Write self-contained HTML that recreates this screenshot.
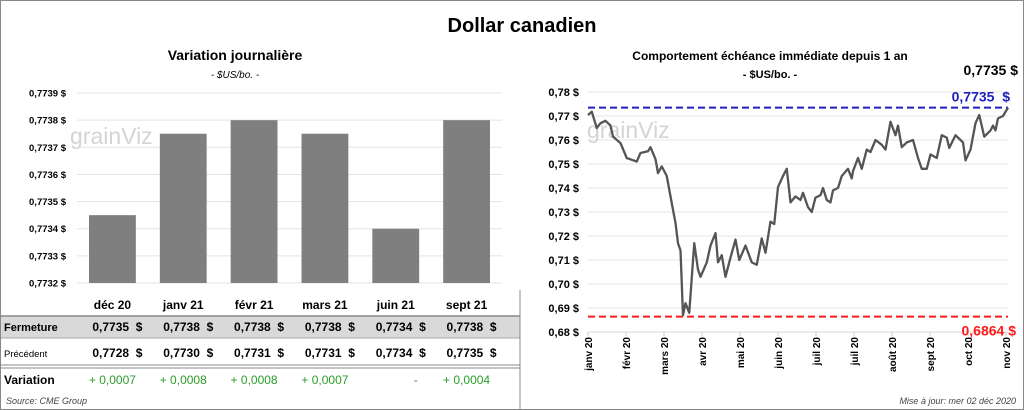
<!DOCTYPE html>
<html><head><meta charset="utf-8"><style>
body{margin:0;width:1024px;height:410px;overflow:hidden;background:#fff;font-family:"Liberation Sans",sans-serif}
svg{display:block}
</style></head><body>
<svg width="1024" height="410" font-family="Liberation Sans, sans-serif">
<rect x="0.5" y="0.5" width="1023" height="409" fill="#fff" stroke="#888"/>
<text x="522" y="32" text-anchor="middle" font-size="20" font-weight="bold">Dollar canadien</text>
<text x="235" y="60" text-anchor="middle" font-size="14" font-weight="bold">Variation  journalière</text>
<text x="235" y="78" text-anchor="middle" font-size="10" font-style="italic">- $US/bo. -</text>
<text x="770" y="60" text-anchor="middle" font-size="12" font-weight="bold">Comportement échéance immédiate depuis 1 an</text>
<text x="770" y="78" text-anchor="middle" font-size="11" font-weight="bold">- $US/bo. -</text>
<text x="1018" y="75" text-anchor="end" font-size="14" font-weight="bold">0,7735 $</text>
<g id="left"></g>
<g id="right"></g>
<g id="table"></g>
<text x="6" y="404" font-size="9" font-style="italic" fill="#444">Source: CME Group</text>
<text x="1016" y="404" text-anchor="end" font-size="9" font-style="italic" fill="#444">Mise à jour: mer 02 déc 2020</text>
</svg>
<script>
const NS='http://www.w3.org/2000/svg';
function mk(p,t,a){const e=document.createElementNS(NS,t);for(const k in a)e.setAttribute(k,a[k]);p.appendChild(e);return e;}
const barCats=['déc 20','janv 21','févr 21','mars 21','juin 21','sept 21'];
const barVals=[0.77345,0.77375,0.7738,0.77375,0.7734,0.7738];
const barTicks=[0.7732,0.7733,0.7734,0.7735,0.7736,0.7737,0.7738,0.7739];
const closeVals=['0,7735','0,7738','0,7738','0,7738','0,7734','0,7738'];
const prevVals=['0,7728','0,7730','0,7731','0,7731','0,7734','0,7735'];
const varVals=['+ 0,0007','+ 0,0008','+ 0,0008','+ 0,0007','-','+ 0,0004'];
const lineDays=[0,3,7,10,14,18,20,26,31,39,42,48,50,54,56,59,63,67,70,72,74,76,78,81,85,88,90,95,98,102,104,107,110,114,118,121,126,131,135,139,142,146,149,152,156,159,162,166,170,172,176,179,182,186,188,191,194,196,200,203,208,211,212,216,219,223,226,230,235,238,242,246,248,251,255,260,264,267,271,274,279,283,287,289,294,298,300,302,306,310,313,317,322,324,326,328,332,336];
const lineVals=[0.7704,0.7718,0.765,0.767,0.768,0.766,0.7614,0.7587,0.7525,0.751,0.7546,0.7553,0.757,0.752,0.7462,0.749,0.745,0.7337,0.7254,0.717,0.714,0.687,0.692,0.688,0.717,0.706,0.703,0.709,0.716,0.7212,0.709,0.712,0.703,0.711,0.7185,0.710,0.716,0.709,0.708,0.719,0.713,0.726,0.725,0.7404,0.745,0.748,0.734,0.7365,0.735,0.738,0.732,0.730,0.736,0.737,0.740,0.735,0.734,0.739,0.740,0.745,0.748,0.744,0.747,0.7525,0.748,0.756,0.755,0.760,0.758,0.756,0.7676,0.762,0.766,0.757,0.759,0.760,0.7525,0.748,0.748,0.754,0.7525,0.762,0.761,0.7567,0.762,0.760,0.759,0.7515,0.756,0.767,0.7704,0.7614,0.764,0.766,0.764,0.769,0.770,0.7735];
const lineTicks=[0.68,0.69,0.70,0.71,0.72,0.73,0.74,0.75,0.76,0.77,0.78];
const monthLabels=['janv 20','févr 20','mars 20','avr 20','mai 20','juin 20','juil 20','juil 20','août 20','sept 20','oct 20','nov 20'];
const hiVal=0.7735, loVal=0.6864;
const fmt=(v,d)=>v.toFixed(d).replace('.',',')+' $';
const NB='\u00a0\u00a0';

// left bar chart
const L=document.getElementById('left');
const ly=v=>283-(v-0.7732)/0.0001*27.14;
const lx0=77,lx1=502,cw=(lx1-lx0)/barCats.length;
barTicks.forEach(t=>{
 const g=mk(L,'line',{x1:lx0,x2:lx1,y1:ly(t),y2:ly(t),stroke:'#e3e3e3'});
 
 
 const tx=mk(L,'text',{x:66,y:ly(t)+3.5,'text-anchor':'end','font-size':9.5,'font-weight':'bold'});tx.textContent=fmt(t,4);
 
 
});
const wm1=mk(L,'text',{x:70,y:144,'font-size':23,fill:'#d4d4d4'});wm1.textContent='grainViz';


barVals.forEach((v,i)=>{
 const r=mk(L,'rect',{x:lx0+cw*i+12,y:ly(v),width:cw-24,height:283-ly(v),fill:'#7f7f7f'});
 
 
});
// table
const T=document.getElementById('table');
mk(T,'rect',{x:1,y:316,width:519,height:22,fill:'#d9d9d9'});
mk(T,'line',{x1:1,x2:520,y1:316,y2:316,stroke:'#888','stroke-width':1.5});
mk(T,'line',{x1:1,x2:520,y1:338,y2:338,stroke:'#aaa'});
mk(T,'line',{x1:1,x2:520,y1:365,y2:365,stroke:'#888'});
mk(T,'line',{x1:1,x2:520,y1:368,y2:368,stroke:'#888'});
mk(T,'line',{x1:520,x2:520,y1:290,y2:410,stroke:'#888'});
const lab=(x,y,s,a)=>{const t=mk(T,'text',Object.assign({x:x,y:y},a));t.textContent=s;return t;};
lab(4,331,'Fermeture',{'font-size':11,'font-weight':'bold'});
lab(4,357,'Précédent',{'font-size':9.5});
lab(4,384,'Variation',{'font-size':12,'font-weight':'bold'});
barCats.forEach((c,i)=>{
 const cx=lx0+cw*i+cw/2;
 const h=lab(cx,309,c,{'text-anchor':'middle','font-size':12,'font-weight':'bold'});
 
 
 lab(cx+30,331,closeVals[i]+NB+'$',{'text-anchor':'end','font-size':12,'font-weight':'bold'});
 lab(cx+30,357,prevVals[i]+NB+'$',{'text-anchor':'end','font-size':12,'font-weight':'bold'});
 lab(varVals[i]==='-'?cx+20:cx,384,varVals[i],{'text-anchor':'middle','font-size':12,fill:'#2a9d2a'});
});
// right line chart
const R=document.getElementById('right');
const rx0=588,rx1=1008,ry=v=>332-(v-0.68)/0.01*24,rx=d=>rx0+d/336*(rx1-rx0);
lineTicks.forEach(t=>{
 const g=mk(R,'line',{x1:rx0,x2:rx1,y1:ry(t),y2:ry(t),stroke:t===0.68?'#d9d9d9':'#e6e6e6'});
 
 
 const tx=mk(R,'text',{x:579,y:ry(t)+4,'text-anchor':'end','font-size':11,'font-weight':'bold'});tx.textContent=fmt(t,2);
 
 
});
const wm2=mk(R,'text',{x:587,y:138,'font-size':23,fill:'#d4d4d4'});wm2.textContent='grainViz';


monthLabels.forEach((m,i)=>{
 const x=rx0+i*(rx1-rx0-2)/11;
 mk(R,'line',{x1:x,x2:x,y1:332,y2:336,stroke:'#ccc'});
 const tx=mk(R,'text',{transform:`translate(${x+4},337) rotate(-90)`,'text-anchor':'end','font-size':10,'font-weight':'bold'});tx.textContent=m;
 
 
});
const hl=mk(R,'line',{x1:rx0,x2:rx1,y1:ry(hiVal),y2:ry(hiVal),stroke:'#2020c0','stroke-width':2,'stroke-dasharray':'7,4'});


const ll=mk(R,'line',{x1:rx0,x2:rx1,y1:ry(loVal),y2:ry(loVal),stroke:'#ff1a1a','stroke-width':2,'stroke-dasharray':'7,4'});


const p=mk(R,'polyline',{points:lineDays.map((d,i)=>rx(d)+','+ry(lineVals[i])).join(' '),fill:'none',stroke:'#555','stroke-width':2.3,'stroke-linejoin':'round'});


const hv=mk(R,'text',{x:1010,y:ry(hiVal)-6,'text-anchor':'end','font-size':14,'font-weight':'bold',fill:'#2020c0'});hv.textContent=hiVal.toFixed(4).replace('.',',')+NB+'$';


const lv=mk(R,'text',{x:1016,y:ry(loVal)+19,'text-anchor':'end','font-size':14,'font-weight':'bold',fill:'#ff1a1a'});lv.textContent=fmt(loVal,4);


</script>
</body></html>
